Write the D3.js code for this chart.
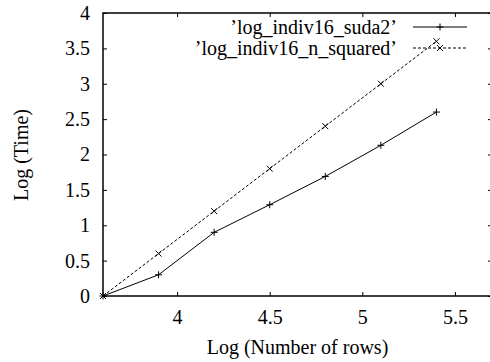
<!DOCTYPE html>
<html>
<head>
<meta charset="utf-8">
<script src="https://cdn.jsdelivr.net/npm/d3@7"></script>
<style>
  body { margin: 0; background: #fff; }
  svg { display: block; }
</style>
</head>
<body>
<div id="chart"></div>
<script>
// Log of row count vs log of run time
const xValues = [3.6, 3.9, 4.2, 4.5, 4.8, 5.1, 5.4];
const suda2 = [0, 0.30, 0.90, 1.29, 1.69, 2.13, 2.60];
const nSquared = [0, 0.60, 1.20, 1.80, 2.40, 3.00, 3.60];
const seriesNames = ["\u2019log_indiv16_suda2\u2019", "\u2019log_indiv16_n_squared\u2019"];
const xTicks = [4, 4.5, 5, 5.5];
const yTicks = [0, 0.5, 1, 1.5, 2, 2.5, 3, 3.5, 4];
const xDomain = [3.6, 5.7];
const yDomain = [0, 4];

const fontFamily = "Liberation Serif";

let margin = { top: 13, left: 103, right: -2, bottom: 66 },
  width = 490 - margin.left - margin.right,
  height = 362 - margin.top - margin.bottom;

let svg = d3
  .select("#chart")
  .append("svg")
  .attr("width", 490)
  .attr("height", 362)
  .attr("font-family", fontFamily)
  .attr("font-size", 20);

svg = svg
  .append("g")
  .attr("transform", "translate(" + margin.left + "," + margin.top + ")");

const xScale = d3.scaleLinear().domain(xDomain).range([0, width]);
const yScale = d3.scaleLinear().domain(yDomain).range([height, 0]);

// inward ticks on all four sides, gnuplot style
const tickLen = 4;
svg.append("g")
  .attr("transform", "translate(0," + height + ")")
  .call(d3.axisBottom(xScale).tickValues(xTicks).tickSize(-tickLen).tickPadding(tickLen + 10).tickFormat(d3.format("")))
  .call((g) => g.select(".domain").remove());
svg.append("g")
  .call(d3.axisTop(xScale).tickValues(xTicks).tickSize(-tickLen).tickFormat(""))
  .call((g) => g.select(".domain").remove());
svg.append("g")
  .call(d3.axisLeft(yScale).tickValues(yTicks).tickSize(-tickLen).tickPadding(tickLen + 9).tickFormat(d3.format("")))
  .call((g) => g.select(".domain").remove());
svg.append("g")
  .attr("transform", "translate(" + width + ",0)")
  .call(d3.axisRight(yScale).tickValues(yTicks).tickSize(-tickLen).tickFormat(""))
  .call((g) => g.select(".domain").remove());

// d3 axes force sans-serif 10px, put the gnuplot look back
svg.selectAll(".tick").each(function () {
  d3.select(this.parentNode).attr("font-family", fontFamily).attr("font-size", 20);
});
svg.selectAll(".tick text").attr("fill", "#000");
svg.selectAll(".tick line").attr("stroke", "#000");

// border
svg.append("rect")
  .attr("width", width)
  .attr("height", height)
  .attr("fill", "none")
  .attr("stroke", "#000")
  .attr("stroke-width", 1.5);

// axis labels
svg.append("text")
  .attr("text-anchor", "middle")
  .attr("x", width / 2)
  .attr("y", height + 58)
  .text("Log (Number of rows)");

svg.append("text")
  .attr("text-anchor", "middle")
  .attr("transform", "translate(" + (28 - margin.left) + "," + (155 - margin.top) + ") rotate(-90)")
  .text("Log (Time)");

const line = d3.line()
  .x((d, i) => xScale(xValues[i]))
  .y((d) => yScale(d));

function plus(g, x, y) {
  g.append("path")
    .attr("d", `M${x - 3.5},${y}H${x + 3.5}M${x},${y - 3.5}V${y + 3.5}`)
    .attr("stroke", "#000")
    .attr("stroke-width", 1);
}

function cross(g, x, y) {
  g.append("path")
    .attr("d", `M${x - 3},${y - 3}L${x + 3},${y + 3}M${x - 3},${y + 3}L${x + 3},${y - 3}`)
    .attr("stroke", "#000")
    .attr("stroke-width", 1);
}

const series = [
  { name: seriesNames[0], values: suda2, dash: null, marker: plus },
  { name: seriesNames[1], values: nSquared, dash: "3,2", marker: cross }
];

series.forEach((s, k) => {
  const g = svg.append("g");
  g.append("path")
    .attr("fill", "none")
    .attr("stroke", "#000")
    .attr("stroke-width", 1)
    .attr("stroke-dasharray", s.dash)
    .attr("d", line(s.values));
  s.values.forEach((v, i) => s.marker(g, xScale(xValues[i]), yScale(v)));

  // legend entry
  const ly = 27 + k * 21 - margin.top;
  const leg = svg.append("g").attr("transform", "translate(0," + ly + ")");
  leg.append("text")
    .attr("text-anchor", "end")
    .attr("x", 397 - margin.left)
    .attr("dy", "0.33em")
    .text(s.name);
  leg.append("line")
    .attr("x1", 413 - margin.left)
    .attr("x2", 467 - margin.left)
    .attr("stroke", "#000")
    .attr("stroke-dasharray", s.dash);
  s.marker(leg, 440 - margin.left, 0);
});
</script>
</body>
</html>
